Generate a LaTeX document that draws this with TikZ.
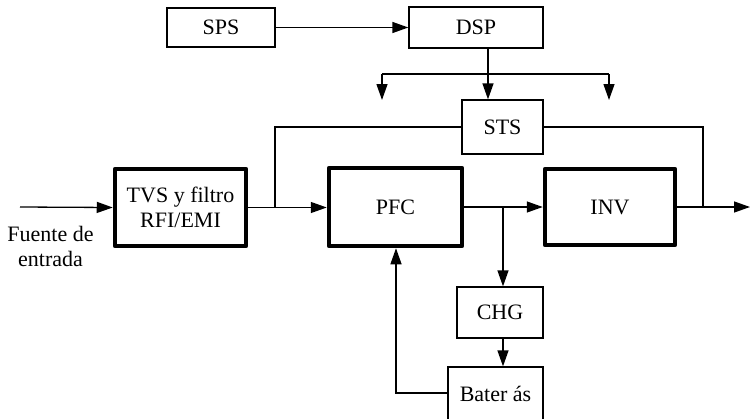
\documentclass[tikz,border=0pt]{standalone}
\usepackage{fontspec}
\setmainfont{Liberation Serif}
\usetikzlibrary{arrows.meta}
\begin{document}
\begin{tikzpicture}[x=1pt,y=-1pt,
  every node/.style={font=\fontsize{22}{25}\selectfont, inner sep=0pt},
  thinbox/.style={draw, line width=1.3pt, align=center},
  thickbox/.style={draw, line width=4.5pt, line join=round, align=center},
  conn/.style={line width=1.3pt},
  arr/.style={conn, -{Triangle[length=16pt,width=11pt]}}]
\useasboundingbox (0,0) rectangle (750,418);
% nodes
\node[thinbox, minimum width=108, minimum height=39] (SPS) at (221,27.5) {SPS};
\node[thinbox, minimum width=134, minimum height=41] (DSP) at (476,27.5) {DSP};
\node[thinbox, minimum width=81, minimum height=54] (STS) at (502.5,127) {STS};
\node[thickbox, minimum width=131, minimum height=77] (TVS) at (180.5,207.5) {TVS y filtro\\RFI/EMI};
\node[thickbox, minimum width=133, minimum height=78] (PFC) at (395.5,207) {PFC};
\node[thickbox, minimum width=130, minimum height=76] (INV) at (610,207) {INV};
\node[thinbox, minimum width=86, minimum height=51] (CHG) at (500,312.5) {CHG};
\node[thinbox, minimum width=95, minimum height=54] (BAT) at (495.5,394) {Bater ás};
\node[align=center] (FE) at (50.5,246) {Fuente de\\entrada};
% coordinates
\coordinate (in) at (20,207);
\coordinate (out) at (750,207);
\coordinate (j1) at (275,207);
\coordinate (j2) at (503,207);
\coordinate (j3) at (703,207);
\coordinate (br) at (488,74);
\coordinate (bl) at (382,100);
\coordinate (brr) at (609,100);
\coordinate (fb) at (396,393);
% connectors
\draw[arr] (SPS.east) -- (SPS.east -| DSP.west);
\draw[arr] (DSP.south -| br) -- (br |- STS.north);
\draw[conn] (br -| bl) -- (br -| brr);
\draw[arr] (br -| bl) -- (bl);
\draw[arr] (br -| brr) -- (brr);
\draw[conn] (STS.west) -- (STS.west -| j1) -- (j1);
\draw[conn] (STS.east) -- (STS.east -| j3) -- (j3);
\draw[arr] (in) -- (TVS.west);
\draw[arr] (TVS.east) -- (TVS.east -| PFC.west);
\draw[arr] (PFC.east) -- (PFC.east -| INV.west);
\draw[arr] (INV.east) -- (out);
\draw[arr] (j2) -- (j2 |- CHG.north);
\draw[arr] (j2 |- CHG.south) -- (j2 |- BAT.north);
\draw[arr] (BAT.west |- fb) -- (fb) -- (fb |- PFC.south);
\end{tikzpicture}
\end{document}
